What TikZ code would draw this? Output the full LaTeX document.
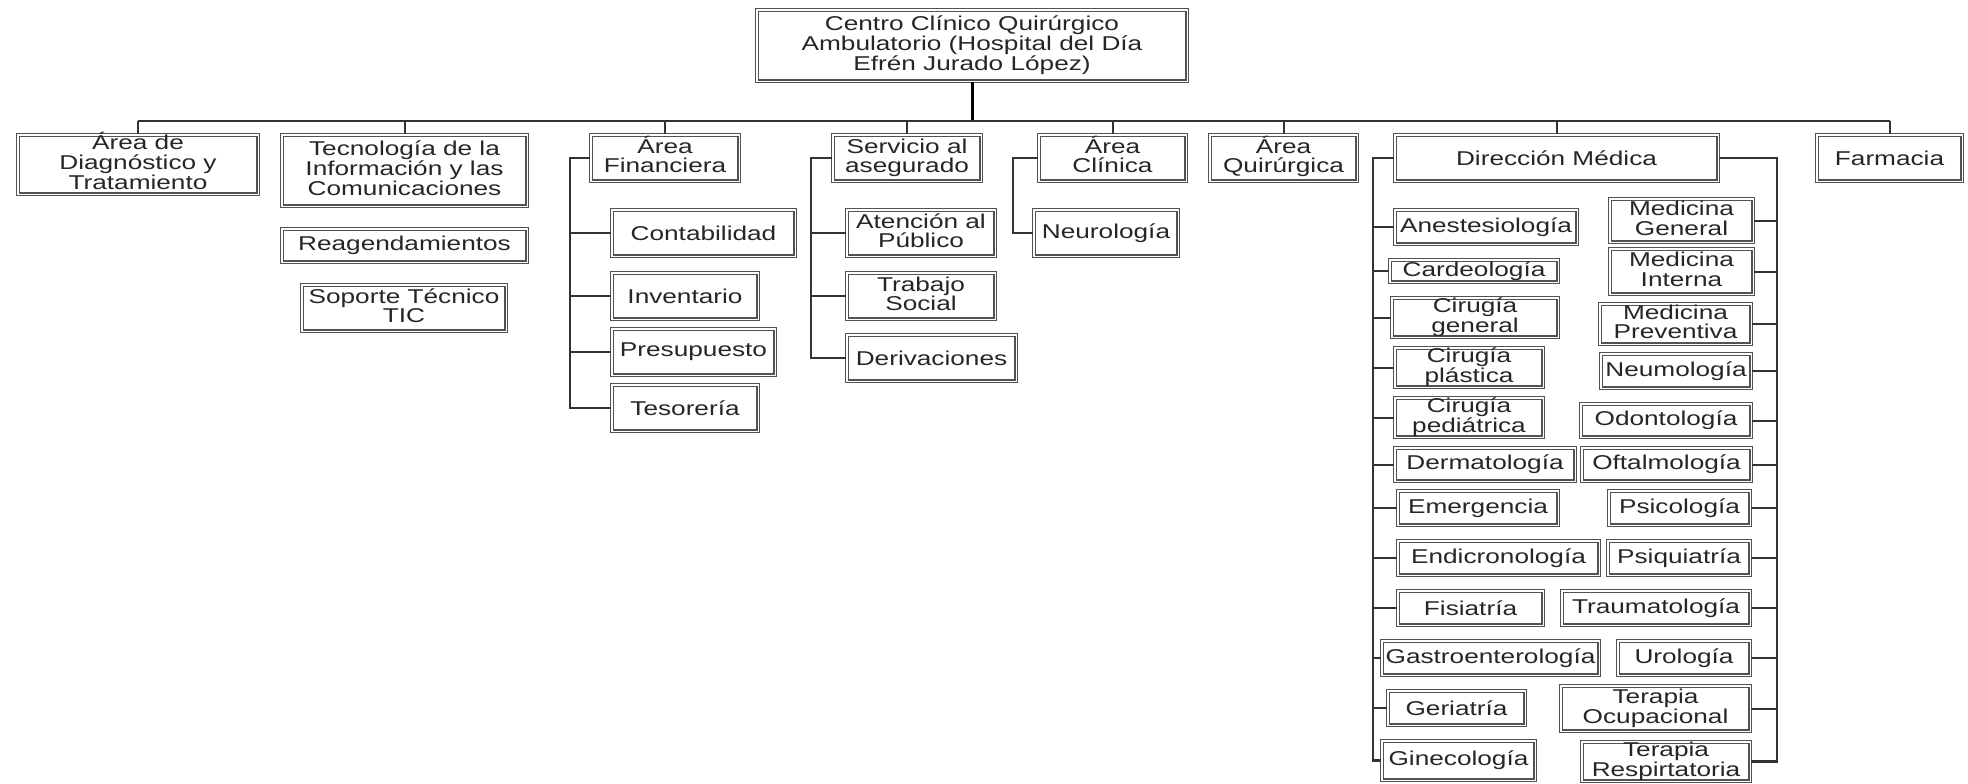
\documentclass[tikz,border=0pt]{standalone}
\usepackage{fontspec}
\setmainfont{Liberation Sans}[FakeStretch=1.31]
\tikzset{
  box/.style={draw=black!68, line width=0.6pt, double=white, double distance=0.7pt,
    fill=white, inner sep=0pt, align=center, text=black!85,
    font=\fontsize{10pt}{9.9pt}\selectfont},
  mltwo/.style={text height=16.9pt, text depth=2pt},
  mlthree/.style={text height=26.8pt, text depth=2pt},
  conn/.style={draw=black!80, line width=1pt},
  trunk/.style={draw=black, line width=1.5pt}
}
\newcommand{\obox}[7][]{%
  \pgfmathsetmacro{\obw}{(#5-#3-3.6)*0.5}%
  \pgfmathsetmacro{\obh}{(#6-#4-3.6)*0.5}%
  \node[box, #1, minimum width=\obw pt, minimum height=\obh pt] (#2) at ({(#3+#5)/2},{(#4+#6)/2}) {#7};%
}
\begin{document}
\begin{tikzpicture}[x=0.5pt,y=-0.5pt]
\fill[white] (0,0) rectangle (1968,783);
\useasboundingbox (0,0) rectangle (1968,783);
% top
\obox[mlthree]{top}{755}{8}{1189}{83}{Centro Clínico Quirúrgico\\Ambulatorio (Hospital del Día\\Efrén Jurado López)}
% level 1
\obox[mlthree]{diag}{16}{133}{260}{196}{Área de\\Diagnóstico y\\Tratamiento}
\obox[mlthree]{tec}{280}{133}{529}{208}{Tecnología de la\\Información y las\\Comunicaciones}
\obox[mltwo]{fin}{589}{133}{741}{183}{Área\\Financiera}
\obox[mltwo]{serv}{831}{133}{983}{183}{Servicio al\\asegurado}
\obox[mltwo]{clin}{1037}{133}{1188}{183}{Área\\Clínica}
\obox[mltwo]{quir}{1208}{133}{1359}{183}{Área\\Quirúrgica}
\obox{dir}{1393}{133}{1720}{183}{Dirección Médica}
\obox{farm}{1815}{133}{1964}{183}{Farmacia}
% TIC
\obox{reag}{280}{227}{529}{264}{Reagendamientos}
\obox[mltwo]{sop}{300}{283}{508}{333}{Soporte Técnico\\TIC}
% financiera
\obox{cont}{610}{208}{797}{258}{Contabilidad}
\obox{inv}{610}{271}{760}{321}{Inventario}
\obox{pres}{610}{327}{777}{377}{Presupuesto}
\obox{tes}{610}{383}{760}{433}{Tesorería}
% servicio
\obox[mltwo]{aten}{845}{208}{997}{258}{Atención al\\Público}
\obox[mltwo]{trab}{845}{271}{997}{321}{Trabajo\\Social}
\obox{deriv}{845}{333}{1018}{383}{Derivaciones}
% clinica
\obox{neuro}{1032}{208}{1180}{258}{Neurología}
% direccion left
\obox{anes}{1393}{208}{1579}{246}{Anestesiología}
\obox{card}{1388}{258}{1560}{284}{Cardeología}
\obox[mltwo]{cgen}{1390}{296}{1560}{339}{Cirugía\\general}
\obox[mltwo]{cpla}{1393}{346}{1545}{389}{Cirugía\\plástica}
\obox[mltwo]{cped}{1393}{396}{1545}{439}{Cirugía\\pediátrica}
\obox{derm}{1393}{446}{1577}{483}{Dermatología}
\obox{emer}{1396}{489}{1560}{527}{Emergencia}
\obox{endo}{1396}{539}{1601}{577}{Endicronología}
\obox{fisi}{1396}{589}{1545}{627}{Fisiatría}
\obox{gast}{1380}{639}{1601}{677}{Gastroenterología}
\obox{geri}{1386}{689}{1527}{727}{Geriatría}
\obox{gine}{1380}{739}{1537}{782}{Ginecología}
% direccion right
\obox[mltwo]{mgen}{1608}{197}{1755}{244}{Medicina\\General}
\obox[mltwo]{mint}{1608}{247}{1755}{296}{Medicina\\Interna}
\obox[mltwo]{mpre}{1598}{302}{1753}{346}{Medicina\\Preventiva}
\obox{neum}{1599}{352}{1753}{390}{Neumología}
\obox{odon}{1579}{402}{1753}{439}{Odontología}
\obox{ofta}{1580}{446}{1753}{483}{Oftalmología}
\obox{psic}{1607}{489}{1752}{527}{Psicología}
\obox{psiq}{1606}{539}{1752}{577}{Psiquiatría}
\obox{trau}{1560}{589}{1752}{627}{Traumatología}
\obox{urol}{1616}{639}{1752}{677}{Urología}
\obox[mltwo]{tocu}{1559}{684}{1752}{733}{Terapia\\Ocupacional}
\obox[mltwo]{tres}{1580}{740}{1752}{783}{Terapia\\Respirtatoria}
% bus
\coordinate (busy) at (0,121);
\draw[trunk] (top.south) -- (top.south |- busy);
\draw[conn] (diag.north |- busy) -- (farm.north |- busy);
\foreach \n in {diag,tec,fin,serv,clin,quir,dir,farm}
  \draw[conn] (\n.north |- busy) -- (\n.north);
% financiera
\coordinate (finsp) at (570,158);
\draw[conn] (fin.west) -- (finsp) |- (tes.west);
\foreach \n in {cont,inv,pres}
  \draw[conn] (finsp |- \n.west) -- (\n.west);
% servicio
\coordinate (servsp) at (811,158);
\draw[conn] (serv.west) -- (servsp) |- (deriv.west);
\foreach \n in {aten,trab}
  \draw[conn] (servsp |- \n.west) -- (\n.west);
% clinica
\coordinate (clinsp) at (1013,158);
\draw[conn] (clin.west) -- (clinsp) |- (neuro.west);
% direccion
\coordinate (dirl) at (1373,158);
\coordinate (dirr) at (1777,158);
\draw[conn, line width=1.2pt] (dir.west) -- (dirl) |- (gine.west);
\foreach \n in {anes,card,cgen,cpla,cped,derm,emer,endo,fisi,gast,geri}
  \draw[conn] (dirl |- \n.west) -- (\n.west);
\draw[conn, line width=1.2pt] (dir.east) -- (dirr) |- (tres.east);
\foreach \n in {mgen,mint,mpre,neum,odon,ofta,psic,psiq,trau,urol,tocu}
  \draw[conn] (dirr |- \n.east) -- (\n.east);
\end{tikzpicture}
\end{document}
